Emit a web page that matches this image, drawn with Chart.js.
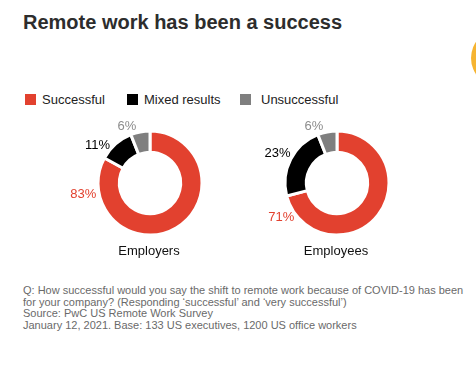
<!DOCTYPE html>
<html>
<head>
<meta charset="utf-8">
<script src="https://cdn.jsdelivr.net/npm/chart.js@4.4.1/dist/chart.umd.min.js"></script>
<style>
    html, body { margin: 0; padding: 0; background: #fff; }
    body { width: 476px; height: 373px; position: relative; overflow: hidden; font-family: 'Liberation Sans', Arial, sans-serif; }
    .title { position: absolute; left: 23px; top: 11px; font-size: 20px; font-weight: bold; color: #2d2d2d; white-space: nowrap; }
    .dot { position: absolute; left: 471px; top: 29px; width: 58px; height: 58px; border-radius: 50%; background: #f6b431; }
    .legend { position: absolute; left: 25px; top: 92px; font-size: 13px; color: #222; white-space: nowrap; }
    .legend span.item { position: absolute; top: 0; }
    .legend i { display: inline-block; width: 11px; height: 11px; vertical-align: -1px; margin-right: 6px; }
    canvas { position: absolute; }
    .note { position: absolute; left: 23px; top: 285px; font-size: 11px; line-height: 11.7px; color: #6a6a6a; white-space: nowrap; }
</style>
</head>
<body>
<div class="title">Remote work has been a success</div>
<div class="dot"></div>
<div class="legend" id="legend"></div>
<canvas id="employersChart" width="200" height="150" style="left:50px; top:108px;"></canvas>
<canvas id="employeesChart" width="200" height="150" style="left:237px; top:108px;"></canvas>
<div class="note">
    Q: How successful would you say the shift to remote work because of COVID-19 has been<br>
    for your company? (Responding ‘successful’ and ‘very successful’)<br>
    Source: PwC US Remote Work Survey<br>
    January 12, 2021. Base: 133 US executives, 1200 US office workers
</div>
<script>
const categories = ['Successful', 'Mixed results', 'Unsuccessful'];
const groups = ['Employers', 'Employees'];
const employersValues = [83, 11, 6];
const employeesValues = [71, 23, 6];

const colors = ['#e2412f', '#000000', '#7f7f7f'];
const labelColors = ['#e2412f', '#000000', '#8c8c8c'];

// legend
const legendX = [0, 102, 215];
document.getElementById('legend').innerHTML = categories.map((c, i) => `
    <span class="item" style="left:${legendX[i]}px;"><i style="background:${colors[i]};${i === 2 ? 'margin-right:10px;' : ''}"></i>${c}</span>
`).join('');

// labels outside the ring + group name under it
const outsideLabels = {
    id: 'outsideLabels',
    afterDraw(chart, args, opts) {
        const ctx = chart.ctx;
        const meta = chart.getDatasetMeta(0);
        const values = chart.data.datasets[0].data;
        ctx.save();
        ctx.font = '13px "Liberation Sans", Arial, sans-serif';
        ctx.textAlign = 'center';
        ctx.textBaseline = 'middle';
        meta.data.forEach((arc, i) => {
            const a = opts.angles[i] * Math.PI / 180;
            const text = values[i] + '%';
            const w = ctx.measureText(text).width;
            const h = 11;
            const r = arc.outerRadius + 3;
            const x = arc.x + Math.cos(a) * r + Math.cos(a) * w / 2;
            const y = arc.y + Math.sin(a) * r + Math.sin(a) * h / 2;
            ctx.fillStyle = labelColors[i];
            ctx.fillText(text, x, y);
        });
        const c = meta.data[0];
        ctx.fillStyle = '#111';
        ctx.fillText(opts.name, c.x - 1, c.y + 68);
        ctx.restore();
    }
};

function createDonut(id, values, name, angles) {
    const ctx = document.getElementById(id).getContext('2d');
    return new Chart(ctx, {
        type: 'doughnut',
        data: {
            labels: categories,
            datasets: [{
                data: values,
                backgroundColor: colors,
                borderColor: '#ffffff',
                borderWidth: 3,
            }]
        },
        options: {
            responsive: false,
            animation: false,
            cutout: '59%',
            layout: { padding: { left: 40, right: 40, top: 21.5, bottom: 21.5 } },
            plugins: {
                legend: { display: false },
                tooltip: { enabled: false },
                outsideLabels: { name: name, angles: angles }
            }
        },
        plugins: [outsideLabels]
    });
}

createDonut('employersChart', employersValues, groups[0], [169, 219, 249]);
createDonut('employeesChart', employeesValues, groups[1], [145, 209, 249]);
</script>
</body>
</html>
